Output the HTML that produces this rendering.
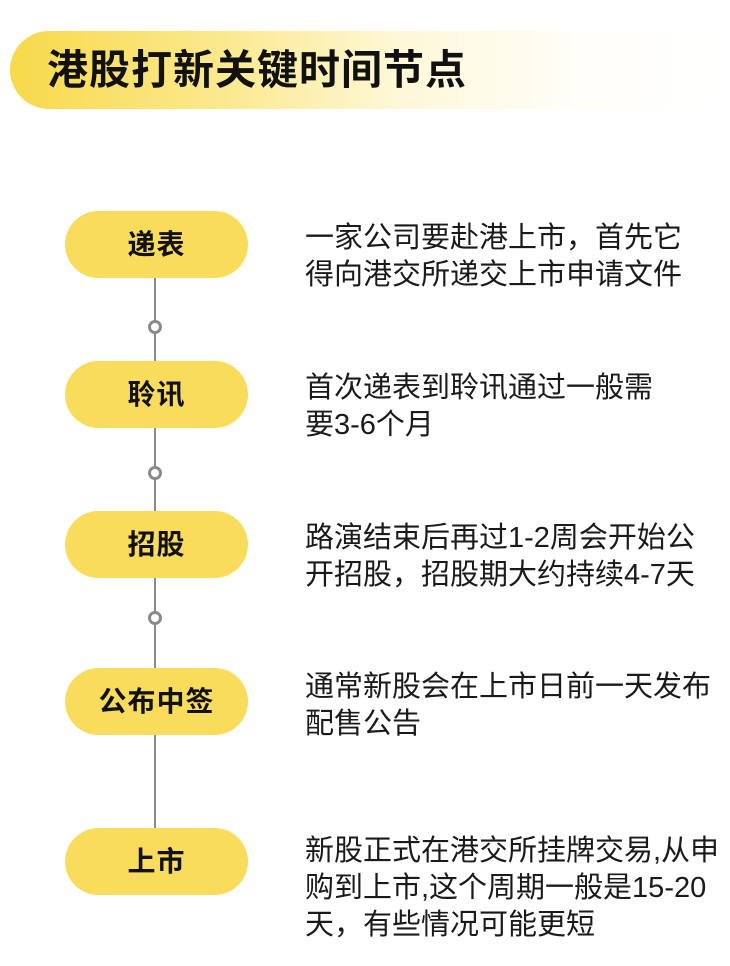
<!DOCTYPE html>
<html><head><meta charset="utf-8"><style>
body{margin:0;width:730px;height:966px;background:#fff;position:relative;overflow:hidden;font-family:"Liberation Sans","Noto Sans CJK SC",sans-serif;}
.ban{position:absolute;left:10px;top:31px;width:712px;height:78px;border-radius:39px 0 0 39px;background:linear-gradient(90deg,#f8d94a 0%,#fbe98f 30%,#fef8d8 55%,#fffef8 80%,#fff 100%);}
.ban span{position:absolute;left:37px;top:17px;font-size:41px;font-weight:bold;color:#111;line-height:44px;letter-spacing:1px;}
.line{position:absolute;left:154px;top:245px;width:2px;height:620px;background:#8a8a8a;}
.pill{position:absolute;left:65px;width:183px;height:67px;border-radius:34px;background:#f9dc5c;text-align:center;line-height:67px;font-size:28px;font-weight:bold;color:#111;letter-spacing:1px;}
.dot{position:absolute;left:148px;width:8px;height:8px;border:3px solid #8a8a8a;border-radius:50%;background:#fff;}
.t{position:absolute;left:305px;font-size:29px;line-height:37px;color:#1a1a1a;white-space:nowrap;}
</style></head><body>
<div class="ban"><span>港股打新关键时间节点</span></div>
<div class="line"></div>
<div class="pill" style="top:211px">递表</div>
<div class="dot" style="top:320px"></div>
<div class="pill" style="top:361px">聆讯</div>
<div class="dot" style="top:466px"></div>
<div class="pill" style="top:511px">招股</div>
<div class="dot" style="top:611px"></div>
<div class="pill" style="top:668px">公布中签</div>
<div class="pill" style="top:828px">上市</div>
<div class="t" style="top:220px">一家公司要赴港上市，首先它<br>得向港交所递交上市申请文件</div>
<div class="t" style="top:370px">首次递表到聆讯通过一般需<br>要3-6个月</div>
<div class="t" style="top:520px">路演结束后再过1-2周会开始公<br>开招股，招股期大约持续4-7天</div>
<div class="t" style="top:669px">通常新股会在上市日前一天发布<br>配售公告</div>
<div class="t" style="top:833px">新股正式在港交所挂牌交易,从申<br>购到上市,这个周期一般是15-20<br>天，有些情况可能更短</div>
</body></html>
